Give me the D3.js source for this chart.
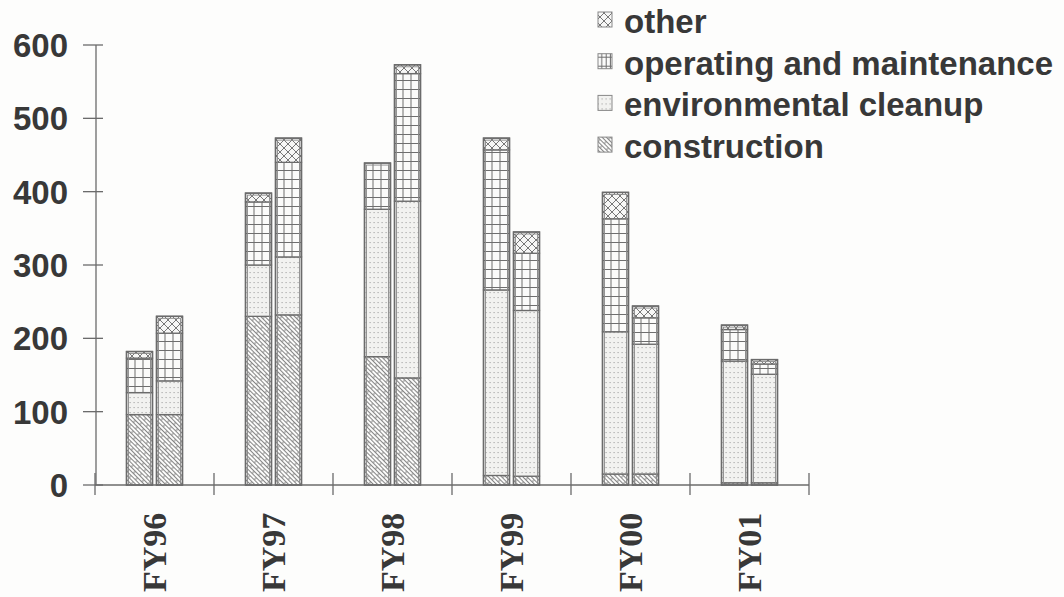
<!DOCTYPE html>
<html>
<head>
<meta charset="utf-8">
<script src="https://cdn.jsdelivr.net/npm/d3@7"></script>
<style>
  html, body { margin: 0; padding: 0; background: #fdfdfc; }
  svg { display: block; }
</style>
</head>
<body>
<svg id="chart" width="1064" height="597"></svg>
<script>
// Fiscal years, two bars per year
const years = ["FY96", "FY97", "FY98", "FY99", "FY00", "FY01"];
const slots = ["a", "b"];
const seriesKeys = ["construction", "environmental cleanup", "operating and maintenance", "other"];
const legendOrder = ["other", "operating and maintenance", "environmental cleanup", "construction"];
const yTicks = [0, 100, 200, 300, 400, 500, 600];

// Values per year: [first bar, second bar]
const construction = [[96, 96], [230, 232], [175, 146], [13, 12], [15, 15], [3, 3]];
const envCleanup   = [[30, 46], [70, 79], [201, 241], [253, 226], [194, 177], [166, 148]];
const operations   = [[47, 65], [86, 129], [63, 174], [191, 78], [154, 36], [43, 14]];
const other        = [[9, 23], [12, 33], [0, 12], [16, 29], [36, 16], [6, 6]];

const records = [];
years.forEach((yr, i) => slots.forEach((s, j) => records.push({
  year: yr, slot: s, id: yr + s,
  "construction": construction[i][j],
  "environmental cleanup": envCleanup[i][j],
  "operating and maintenance": operations[i][j],
  "other": other[i][j]
})));

const svg = d3.select("#chart");
const ink = "#383838", line = "#6b6b6b";

const x = d3.scaleBand().domain(years).range([95, 809]).padding(0);
const xs = d3.scaleBand().domain(slots).range([31.5, 87.5]).paddingInner(4 / 30).paddingOuter(0);
const y = d3.scaleLinear().domain([0, 600]).range([485, 45]);

const defs = svg.append("defs");

// construction: slanted brick weave
const pc = defs.append("pattern").attr("id", "p-construction")
  .attr("patternUnits", "userSpaceOnUse").attr("width", 12).attr("height", 6)
  .attr("patternTransform", "rotate(45)");
pc.append("rect").attr("width", 12).attr("height", 6).attr("fill", "#fbfbfa");
pc.append("path").attr("d", "M0,0.5H12M0,3.5H12M3,0.5V3.5M9,3.5V6")
  .attr("stroke", "#858585").attr("stroke-width", 1).attr("fill", "none");

// environmental cleanup: sparse dots
const pe = defs.append("pattern").attr("id", "p-environmental-cleanup")
  .attr("patternUnits", "userSpaceOnUse").attr("width", 4).attr("height", 5);
pe.append("rect").attr("width", 4).attr("height", 5).attr("fill", "#f2f2f0");
pe.append("rect").attr("x", 1.5).attr("y", 2).attr("width", 1.2).attr("height", 1.1).attr("fill", "#a9a9a9");

// other: diagonal crosshatch
const po = defs.append("pattern").attr("id", "p-other")
  .attr("patternUnits", "userSpaceOnUse").attr("width", 8).attr("height", 8);
po.append("rect").attr("width", 8).attr("height", 8).attr("fill", "#f7f7f6");
po.append("path").attr("d", "M0,0L8,8M8,0L0,8")
  .attr("stroke", "#777").attr("stroke-width", 1).attr("fill", "none");

// operating and maintenance: square grid, one aligned pattern per bar
function gridPattern(id, x0, y0, w) {
  const cw = w / 3;
  const p = defs.append("pattern").attr("id", id)
    .attr("patternUnits", "userSpaceOnUse")
    .attr("x", x0).attr("y", y0).attr("width", cw).attr("height", 9);
  p.append("rect").attr("width", cw).attr("height", 9).attr("fill", "#fbfbfa");
  p.append("path").attr("d", `M0,0.5H${cw}M${cw - 0.5},0V9`)
    .attr("stroke", "#6e6e6e").attr("stroke-width", 1).attr("fill", "none");
}

const fillId = k => "p-" + k.replace(/ /g, "-");

const stack = d3.stack().keys(seriesKeys);
const layers = stack(records);

const bw = xs.bandwidth();
const barX = d => x(d.data.year) + xs(d.data.slot);

records.forEach(r => gridPattern("p-om-" + r.id, x(r.year) + xs(r.slot) + 1, y(0), bw - 2));

const gBars = svg.append("g");
layers.forEach(layer => {
  gBars.selectAll(null)
    .data(layer.filter(d => d[1] - d[0] > 0))
    .join("rect")
    .attr("x", d => barX(d))
    .attr("y", d => y(d[1]))
    .attr("width", bw)
    .attr("height", d => y(d[0]) - y(d[1]))
    .attr("fill", d => layer.key === "operating and maintenance" ? `url(#p-om-${d.data.id})` : `url(#${fillId(layer.key)})`)
    .attr("stroke", line)
    .attr("stroke-width", 1.3);
});

// double outline around each whole bar
const totals = records.map(r => ({ r, total: d3.sum(seriesKeys, k => r[k]) }));
gBars.selectAll(null).data(totals).join("rect")
  .attr("x", d => x(d.r.year) + xs(d.r.slot))
  .attr("y", d => y(d.total))
  .attr("width", bw).attr("height", d => y(0) - y(d.total))
  .attr("fill", "none").attr("stroke", line).attr("stroke-width", 1.4);
gBars.selectAll(null).data(totals).join("rect")
  .attr("x", d => x(d.r.year) + xs(d.r.slot) + 2)
  .attr("y", d => y(d.total) + 2)
  .attr("width", bw - 4).attr("height", d => Math.max(0, y(0) - y(d.total) - 2))
  .attr("fill", "none").attr("stroke", "#8a8a8a").attr("stroke-width", 0.9);

// y axis
const gy = svg.append("g");
gy.append("line").attr("x1", 96).attr("x2", 96).attr("y1", y(600)).attr("y2", y(0))
  .attr("stroke", line).attr("stroke-width", 1.3);
gy.selectAll("line.tick").data(yTicks).join("line").attr("class", "tick")
  .attr("x1", 83).attr("x2", 103).attr("y1", d => y(d)).attr("y2", d => y(d))
  .attr("stroke", line).attr("stroke-width", 1.3);
gy.selectAll("text").data(yTicks).join("text")
  .attr("x", 68).attr("y", d => y(d)).attr("dy", "0.36em")
  .attr("text-anchor", "end")
  .attr("font-family", "Liberation Sans, Arial, sans-serif")
  .attr("font-weight", "bold").attr("font-size", 33).attr("fill", ink)
  .text(d => d);

// x axis
const gx = svg.append("g");
gx.append("line").attr("x1", 95).attr("x2", 809).attr("y1", y(0)).attr("y2", y(0))
  .attr("stroke", line).attr("stroke-width", 1.3);
const bounds = years.map(d => x(d)).concat([x(years[years.length - 1]) + x.bandwidth()]);
gx.selectAll("line.tick").data(bounds).join("line").attr("class", "tick")
  .attr("x1", d => d).attr("x2", d => d).attr("y1", y(0) - 12).attr("y2", y(0) + 10)
  .attr("stroke", line).attr("stroke-width", 1.3);
gx.selectAll("text").data(years).join("text")
  .attr("transform", d => `translate(${x(d) + x.bandwidth() / 2 + 11},592) rotate(-90)`)
  .attr("text-anchor", "start")
  .attr("font-family", "Liberation Serif, Times New Roman, serif")
  .attr("font-weight", "bold").attr("font-size", 34).attr("fill", ink)
  .text(d => d);

// legend
const gl = svg.append("g");
const lg = gl.selectAll("g").data(legendOrder).join("g")
  .attr("transform", (d, i) => `translate(0,${33 + i * 41.7})`);
gridPattern("p-om-leg", 598, 0, 13);
lg.append("rect").attr("x", 598).attr("y", -21).attr("width", 14).attr("height", 15)
  .attr("fill", d => d === "operating and maintenance" ? "url(#p-om-leg)" : `url(#${fillId(d)})`)
  .attr("stroke", "#888").attr("stroke-width", 1);
lg.append("text").attr("x", 624).attr("y", 0)
  .attr("font-family", "Liberation Sans, Arial, sans-serif")
  .attr("font-weight", "bold").attr("font-size", 33).attr("fill", ink)
  .text(d => d);
</script>
</body>
</html>
